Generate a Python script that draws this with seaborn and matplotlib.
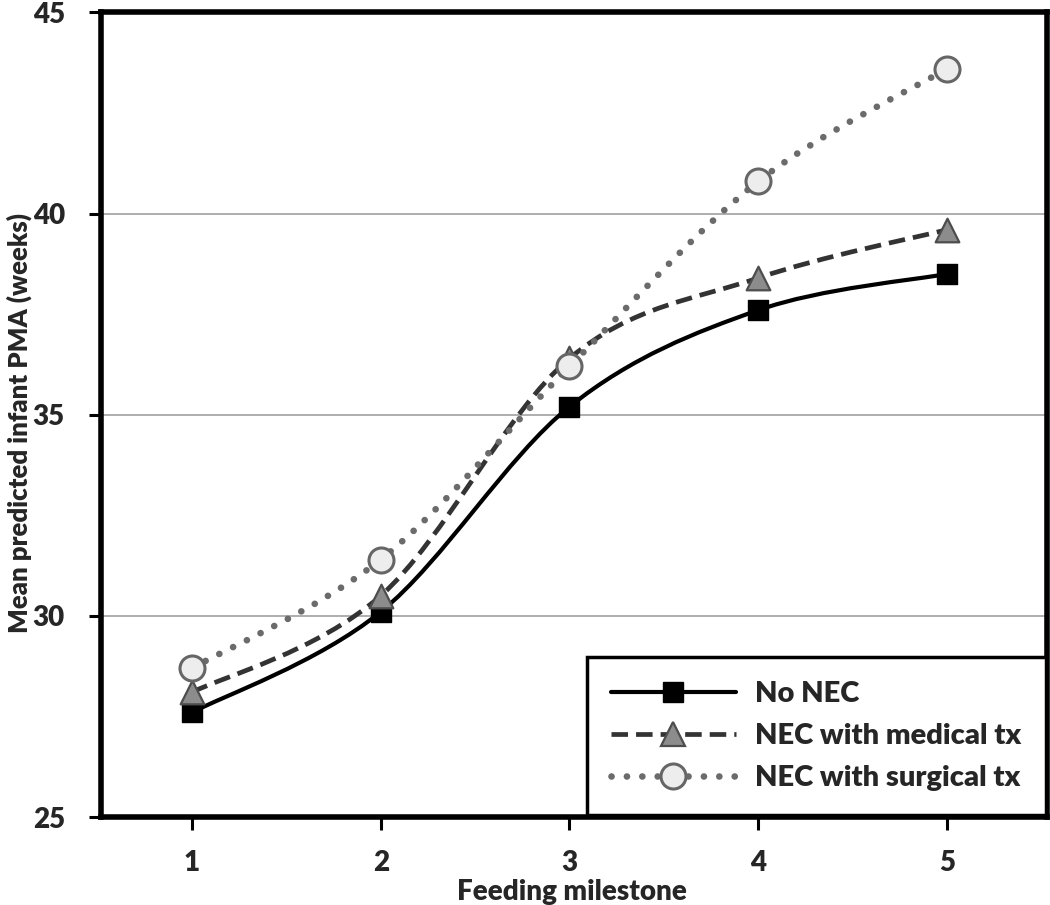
import numpy as np
import pandas as pd
import matplotlib
matplotlib.use("Agg")
import matplotlib.pyplot as plt
import seaborn as sns
from matplotlib.path import Path
from matplotlib.patches import PathPatch
from matplotlib.lines import Line2D

# ---- data ----
milestone = [1, 2, 3, 4, 5]
no_nec = [27.6, 30.1, 35.2, 37.6, 38.5]
nec_medical = [28.1, 30.5, 36.4, 38.4, 39.6]
nec_surgical = [28.7, 31.4, 36.2, 40.8, 43.6]
labels = ["No NEC", "NEC with medical tx", "NEC with surgical tx"]

df = pd.DataFrame({
    "milestone": milestone * 3,
    "pma": no_nec + nec_medical + nec_surgical,
    "group": [labels[0]] * 5 + [labels[1]] * 5 + [labels[2]] * 5,
})

sns.set_theme(style="white")
plt.rcParams["font.family"] = ["Lato", "DejaVu Sans"]
WEIGHT = 800
plt.rcParams["font.weight"] = WEIGHT


def smooth_path(xs, ys):
    # Excel-like smoothed line: cubic Bezier through the points
    p = np.column_stack([xs, ys]).astype(float)
    n = len(p)
    verts = [p[0]]
    codes = [Path.MOVETO]
    for i in range(n - 1):
        prev = p[i - 1] if i > 0 else p[i]
        nxt = p[i + 2] if i + 2 < n else p[i + 1]
        c1 = p[i] + (p[i + 1] - prev) / 6
        c2 = p[i + 1] - (nxt - p[i]) / 6
        verts += [c1, c2, p[i + 1]]
        codes += [Path.CURVE4] * 3
    return Path(verts, codes)


styles = {
    labels[0]: dict(color="black", ls="-", lw=3.0, cap="butt", marker="s", ms=15,
                    mfc="black", mec="black", mew=1.0),
    labels[1]: dict(color="#333333", ls=(0, (3.5, 1.7)), lw=3.4, cap="butt", marker="^",
                    ms=17, mfc="#8c8c8c", mec="#4d4d4d", mew=1.6),
    labels[2]: dict(color="#6b6b6b", ls=(0, (0.01, 2.3)), lw=4.8, cap="round", marker="o",
                    ms=18, mfc="#ededed", mec="#666666", mew=2.2),
}

fig = plt.figure(figsize=(10.5, 9.05), dpi=100)
ax = fig.add_axes([0.0962, 0.0972, 0.9009, 0.8890])

for k, name in enumerate(labels):
    sub = df[df["group"] == name]
    st = styles[name]
    patch = PathPatch(smooth_path(sub["milestone"], sub["pma"]), facecolor="none",
                      edgecolor=st["color"], lw=st["lw"], linestyle=st["ls"],
                      capstyle=st["cap"], zorder=3 + 2 * k)
    ax.add_patch(patch)
    sns.scatterplot(data=sub, x="milestone", y="pma", marker=st["marker"],
                    s=st["ms"] ** 2, color=st["mfc"], edgecolor=st["mec"],
                    linewidth=st["mew"], zorder=4 + 2 * k, ax=ax, legend=False)

ax.set_xlim(0.518, 5.53)
ax.set_ylim(25, 45)
ax.set_xticks(milestone)
ax.set_yticks([25, 30, 35, 40, 45])
ax.yaxis.grid(True, color="#a8a8a8", lw=1.3)
ax.xaxis.grid(False)
ax.set_axisbelow(True)

for sp in ax.spines.values():
    sp.set_color("black")
    sp.set_linewidth(4)

ax.tick_params(axis="both", which="major", direction="out", length=9, width=2.2,
               color="black", labelsize=20, bottom=True, left=True)
ax.tick_params(axis="y", pad=17)
ax.tick_params(axis="x", pad=15)
plt.setp(ax.get_xticklabels() + ax.get_yticklabels(), fontweight=WEIGHT)

ax.set_xlabel("Feeding milestone", fontsize=20, fontweight=WEIGHT)
ax.set_ylabel("Mean predicted infant PMA (weeks)", fontsize=18.5, fontweight=WEIGHT)
ax.xaxis.set_label_coords(0.498, -0.077)
ax.yaxis.set_label_coords(-0.073, 0.49)

handles = []
for name in labels:
    st = styles[name]
    handles.append(Line2D([], [], color=st["color"], lw=st["lw"], ls=st["ls"],
                          marker=st["marker"], ms=st["ms"], mfc=st["mfc"],
                          mec=st["mec"], mew=st["mew"], dash_capstyle=st["cap"]))

leg = ax.legend(handles, labels, loc="lower right", bbox_to_anchor=(0.9985, 0.0025),
                borderaxespad=0, frameon=True, fancybox=False, framealpha=1,
                edgecolor="black", handlelength=4.28, handletextpad=0.68,
                labelspacing=0.55, borderpad=0.82,
                prop={"family": "Lato", "weight": WEIGHT, "size": 21})
leg.get_frame().set_linewidth(2.5)
leg.set_zorder(20)

fig.savefig("out.png", dpi=100, facecolor="white")
